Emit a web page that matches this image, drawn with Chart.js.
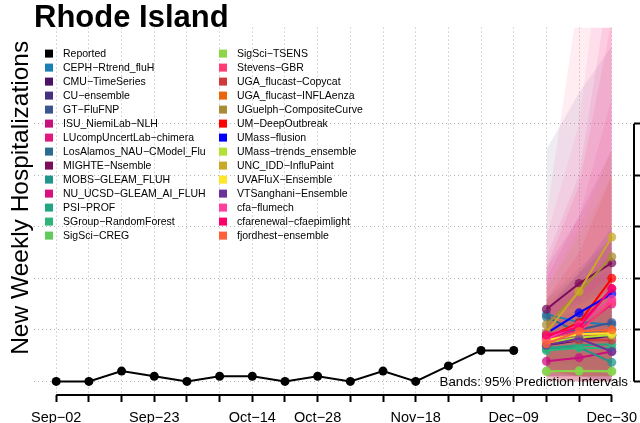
<!DOCTYPE html>
<html>
<head>
<meta charset="utf-8">
<script src="https://cdn.jsdelivr.net/npm/chart.js@4.4.1/dist/chart.umd.min.js"></script>
<style>
  html, body { margin: 0; padding: 0; background: #fff; overflow: hidden; }
  canvas { display: block; }
</style>
</head>
<body>
<canvas id="chart" width="640" height="423"></canvas>
<script>
// weekly axis (week index 0..17)
const weekLabels = ["Sep−02", "Sep−09", "Sep−16", "Sep−23", "Sep−30", "Oct−07", "Oct−14", "Oct−21",
  "Oct−28", "Nov−04", "Nov−11", "Nov−18", "Nov−25", "Dec−02", "Dec−09", "Dec−16", "Dec−23", "Dec−30"];
const shownLabels = ["Sep−02", "Sep−23", "Oct−14", "Oct−28", "Nov−18", "Dec−09", "Dec−30"];
const yTicks = [0, 10, 20, 30, 40, 50];

// reported hospitalizations, Sep-02 .. Dec-09
const reported = [0, 0, 2, 1, 0, 1, 1, 0, 1, 0, 2, 0, 3, 6, 6];

// forecast target weeks (Dec-16, Dec-23, Dec-30)
const forecastWeeks = [15, 16, 17];

const modelNames = [
  "CEPH−Rtrend_fluH", "CMU−TimeSeries", "CU−ensemble", "GT−FluFNP", "ISU_NiemiLab−NLH",
  "LUcompUncertLab−chimera", "LosAlamos_NAU−CModel_Flu", "MIGHTE−Nsemble", "MOBS−GLEAM_FLUH",
  "NU_UCSD−GLEAM_AI_FLUH", "PSI−PROF", "SGroup−RandomForest", "SigSci−CREG",
  "SigSci−TSENS", "Stevens−GBR", "UGA_flucast−Copycat", "UGA_flucast−INFLAenza",
  "UGuelph−CompositeCurve", "UM−DeepOutbreak", "UMass−flusion", "UMass−trends_ensemble",
  "UNC_IDD−InfluPaint", "UVAFluX−Ensemble", "VTSanghani−Ensemble", "cfa−flumech",
  "cfarenewal−cfaepimlight", "fjordhest−ensemble"
];
const modelColors = [
  "#1a7fb6", "#4b1266", "#46307f", "#3b5592", "#c9107f",
  "#e3177c", "#2d6c8e", "#7b0d5a", "#1f958b",
  "#db0f80", "#22a583", "#2fb57b", "#62c95c",
  "#8cd648", "#ff3b73", "#cf3b3b", "#e8650a",
  "#a98d35", "#ff0000", "#0000ff", "#b4e034",
  "#c9a828", "#fee628", "#6b3299", "#ff3ea0",
  "#ff0068", "#ff6038"
];
// medians per model at the three forecast weeks
const medians = [
  [13, 11.5, 11], [7, 8, 8.9], [7.5, 8.5, 9], [9, 10, 11.4], [3.9, 4.6, 5.8],
  [8.5, 10, 15], [12.5, 9.5, 10], [14, 19, 23], [6.2, 6.6, 3.7],
  [8, 11, 18], [6.5, 7, 7.2], [6, 6.5, 6.5], [2, 2, 2],
  [1.9, 2, 1.9], [8, 9.5, 15.5], [7.5, 8, 8], [7.5, 8.2, 10],
  [11, 17.3, 24.2], [8.5, 11.4, 20], [9.3, 13.3, 17], [7.5, 8.5, 9],
  [9.5, 17.5, 28], [8, 9.2, 9.3], [7, 8.3, 5.8], [8.2, 11, 16],
  [9, 10.5, 18], [7.3, 9.7, 10]
];
// 95% interval bounds
const lower95 = [
  [3, 2, 1], [2, 1, 1], [2, 1, 1], [2, 1, 1], [0, 0, 0],
  [1, 0, 0], [3, 1, 1], [4, 3, 2], [1, 1, 0],
  [1, 1, 0], [2, 1, 1], [1, 1, 1], [0, 0, 0],
  [0, 0, 0], [0, 0, 0], [2, 1, 1], [2, 1, 1],
  [2, 2, 2], [1, 1, 1], [2, 2, 1], [2, 1, 1],
  [1, 1, 1], [2, 2, 1], [1, 1, 0], [0, 0, 0],
  [1, 0, 0], [2, 1, 1]
];
const upper95 = [
  [16, 22, 28], [11, 14, 17], [45, 56, 65], [14, 19, 25], [9, 12, 16],
  [24, 40, 80], [16, 21, 27], [22, 32, 45], [11, 12, 13],
  [20, 32, 55], [12, 14, 16], [10, 12, 13], [6, 7, 8],
  [5, 6, 7], [32, 75, 150], [14, 18, 22], [15, 21, 28],
  [18, 28, 40], [16, 25, 40], [14, 21, 30], [12, 16, 20],
  [18, 30, 45], [12, 15, 18], [11, 13, 15], [28, 50, 100],
  [22, 38, 70], [13, 19, 26]
];

Chart.defaults.font.family = "'Liberation Sans', Arial, Helvetica, sans-serif";
Chart.defaults.color = "#000";

function withAlpha(hex, a) {
  const n = parseInt(hex.slice(1), 16);
  return "rgba(" + (n >> 16 & 255) + "," + (n >> 8 & 255) + "," + (n & 255) + "," + a + ")";
}

const datasets = [];
datasets.push({
  label: "Reported",
  data: reported.map((v, i) => ({ x: i, y: v })),
  borderColor: "#000", backgroundColor: "#000",
  borderWidth: 2, pointRadius: 4.5, pointBorderWidth: 0,
  order: 0
});
modelNames.forEach((name, m) => {
  datasets.push({
    label: name,
    data: forecastWeeks.map((x, k) => ({ x: x, y: medians[m][k] })),
    borderColor: modelColors[m],
    backgroundColor: withAlpha(modelColors[m], 0.75),
    borderWidth: 2, pointRadius: 4.5, pointBorderWidth: 0,
    order: 2 - m / 100
  });
});
// bands: lower bound then upper bound filled to it (first model drawn first)
modelNames.forEach((name, m) => {
  datasets.push({
    label: name + " lo",
    data: forecastWeeks.map((x, k) => ({ x: x, y: lower95[m][k] })),
    borderWidth: 0, pointRadius: 0, fill: false, order: 4 - m / 100
  });
  datasets.push({
    label: name + " hi",
    data: forecastWeeks.map((x, k) => ({ x: x, y: upper95[m][k] })),
    borderWidth: 0, pointRadius: 0, fill: "-1",
    backgroundColor: withAlpha(modelColors[m], 0.09), order: 4 - m / 100
  });
});

const gridColor = "rgba(0,0,0,0.3)";

// axis lines (only tick span), legend, y label and band note
const extras = {
  id: "extras",
  afterDraw(chart) {
    const ctx = chart.ctx;
    const area = chart.chartArea;
    const xs = chart.scales.x, ys = chart.scales.y;
    ctx.save();
    ctx.strokeStyle = "#000";
    ctx.lineWidth = 2;
    ctx.beginPath();
    ctx.moveTo(xs.getPixelForValue(0), area.bottom);
    ctx.lineTo(xs.getPixelForValue(weekLabels.length - 1), area.bottom);
    ctx.moveTo(area.right, ys.getPixelForValue(yTicks[0]));
    ctx.lineTo(area.right, ys.getPixelForValue(yTicks[yTicks.length - 1]));
    ctx.stroke();

    // legend, two columns of 14
    const names = ["Reported"].concat(modelNames);
    const cols = ["#000"].concat(modelColors);
    ctx.font = "10.5px 'Liberation Sans', Arial, sans-serif";
    ctx.textBaseline = "middle";
    ctx.textAlign = "left";
    names.forEach((n, i) => {
      const col = Math.floor(i / 14), row = i % 14;
      const bx = area.left + 11 + col * 174;
      const by = area.top + 26 + row * 14;
      ctx.fillStyle = cols[i];
      ctx.fillRect(bx, by - 4, 8, 8);
      ctx.fillStyle = "#000";
      ctx.fillText(n, bx + 18, by + 0.5);
    });

    // band note
    ctx.font = "13.3px 'Liberation Sans', Arial, sans-serif";
    ctx.textAlign = "right";
    ctx.textBaseline = "alphabetic";
    ctx.fillText("Bands: 95% Prediction Intervals", area.right - 6, area.bottom - 9);

    // y axis title
    ctx.font = "24.5px 'Liberation Sans', Arial, sans-serif";
    ctx.textAlign = "center";
    ctx.translate(area.left - 6, (area.top + area.bottom) / 2 - 13.5);
    ctx.rotate(-Math.PI / 2);
    ctx.fillText("New Weekly Hospitalizations", 0, 0);
    ctx.restore();
  }
};

new Chart(document.getElementById("chart"), {
  type: "line",
  data: { datasets: datasets },
  options: {
    responsive: false,
    animation: false,
    devicePixelRatio: 1,
    layout: { padding: { left: 34, right: 0, top: 0, bottom: 0 } },
    elements: { line: { tension: 0 } },
    plugins: {
      legend: { display: false },
      tooltip: { enabled: false },
      title: {
        display: true,
        text: "Rhode Island",
        align: "start",
        fullSize: false,
        color: "#000",
        font: { size: 31, weight: "bold", lineHeight: 0.6 },
        padding: { top: 9, bottom: 0 }
      }
    },
    scales: {
      x: {
        type: "linear",
        min: -0.68, max: 17.68,
        afterBuildTicks: (s) => { s.ticks = weekLabels.map((_, i) => ({ value: i })); },
        afterFit: (s) => { s.height = 28; s.paddingLeft = 0; s.paddingRight = 0; },
        ticks: {
          autoSkip: false, maxRotation: 0, padding: 7,
          font: { size: 14.5 }, color: "#000",
          callback: (v) => shownLabels.includes(weekLabels[v]) ? weekLabels[v] : ""
        },
        grid: { color: gridColor, lineWidth: 1, tickLength: 7, tickColor: "#000", tickWidth: 2 },
        border: { display: false, dash: [1, 3] }
      },
      y: {
        type: "linear",
        position: "right",
        min: -2.64, max: 68.64,
        afterBuildTicks: (s) => { s.ticks = yTicks.map((v) => ({ value: v })); },
        afterFit: (s) => { s.width = 6; },
        ticks: { display: false },
        grid: { color: gridColor, lineWidth: 1, tickLength: 7, tickColor: "#000", tickWidth: 2 },
        border: { display: false, dash: [1, 3] }
      }
    }
  },
  plugins: [extras]
});
</script>
</body>
</html>
